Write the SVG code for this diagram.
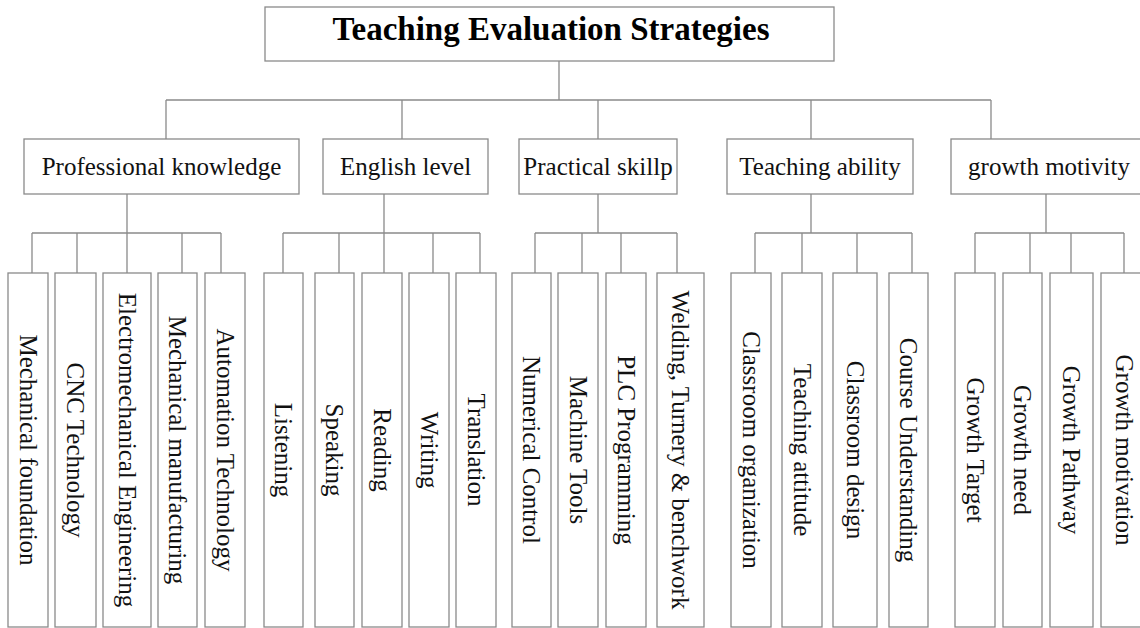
<svg xmlns="http://www.w3.org/2000/svg" width="1140" height="628" viewBox="0 0 1140 628">
<style>
.box{fill:#fff;stroke:#8a8a8a;stroke-width:1.3}
.ln{fill:none;stroke:#8a8a8a;stroke-width:1.3}
.t{font-family:"Liberation Serif","Times New Roman",serif;font-size:25px;fill:#111;text-anchor:middle}
.title{font-family:"Liberation Serif","Times New Roman",serif;font-size:33px;font-weight:bold;fill:#000;text-anchor:middle}
</style>
<rect width="1140" height="628" fill="#fff"/>
<g id="connectors" class="ln">
<path d="M559 61V100M166 100H991M166 100V139M402 100V139M598 100V139M811 100V139M991 100V139"/>
<path d="M127 194V233M32 233H221M32 233V273M77 233V273M127 233V273M182 233V273M221 233V273"/>
<path d="M384 194V233M283 233H480M283 233V273M339 233V273M384 233V273M433 233V273M480 233V273"/>
<path d="M598 194V233M535 233H677M535 233V273M582 233V273M621 233V273M677 233V273"/>
<path d="M811 194V233M755 233H912M755 233V273M802 233V273M857 233V273M912 233V273"/>
<path d="M1046 194V233M975 233H1124M975 233V273M1030 233V273M1071 233V273M1124 233V273"/>
</g>
<g id="root"><rect class="box" x="265" y="7" width="569" height="54"/><text class="title" x="551" y="40">Teaching Evaluation Strategies</text></g>
<g id="n-prof"><rect class="box" x="24" y="139" width="275" height="55"/><text class="t" x="161.5" y="175">Professional knowledge</text></g>
<g id="n-eng"><rect class="box" x="323" y="139" width="165" height="55"/><text class="t" x="405.5" y="175">English level</text></g>
<g id="n-prac"><rect class="box" x="519" y="139" width="158" height="55"/><text class="t" x="598" y="175">Practical skillp</text></g>
<g id="n-teach"><rect class="box" x="727" y="139" width="186" height="55"/><text class="t" x="820" y="175">Teaching ability</text></g>
<g id="n-growth"><rect class="box" x="951" y="139" width="196" height="55"/><text class="t" x="1049" y="175">growth motivity</text></g>

<g id="l-mf"><rect class="box" x="8" y="273" width="40" height="354"/><text class="t" transform="translate(28,450) rotate(90)" y="8.5">Mechanical foundation</text></g>
<g id="l-cnc"><rect class="box" x="55" y="273" width="41" height="354"/><text class="t" transform="translate(75.5,450) rotate(90)" y="8.5">CNC Technology</text></g>
<g id="l-ee"><rect class="box" x="103" y="273" width="48" height="354"/><text class="t" transform="translate(127,450) rotate(90)" y="8.5">Electromechanical Engineering</text></g>
<g id="l-mm"><rect class="box" x="158" y="273" width="39" height="354"/><text class="t" transform="translate(177.5,450) rotate(90)" y="8.5">Mechanical manufacturing</text></g>
<g id="l-at"><rect class="box" x="205" y="273" width="40" height="354"/><text class="t" transform="translate(225,450) rotate(90)" y="8.5">Automation Technology</text></g>

<g id="l-lis"><rect class="box" x="264" y="273" width="39" height="354"/><text class="t" transform="translate(283.5,450) rotate(90)" y="8.5">Listening</text></g>
<g id="l-spk"><rect class="box" x="315" y="273" width="39" height="354"/><text class="t" transform="translate(334.5,450) rotate(90)" y="8.5">Speaking</text></g>
<g id="l-rd"><rect class="box" x="362" y="273" width="40" height="354"/><text class="t" transform="translate(382,450) rotate(90)" y="8.5">Reading</text></g>
<g id="l-wr"><rect class="box" x="409" y="273" width="40" height="354"/><text class="t" transform="translate(429,450) rotate(90)" y="8.5">Writing</text></g>
<g id="l-tr"><rect class="box" x="456" y="273" width="40" height="354"/><text class="t" transform="translate(476,450) rotate(90)" y="8.5">Translation</text></g>

<g id="l-nc"><rect class="box" x="512" y="273" width="39" height="354"/><text class="t" transform="translate(531.5,450) rotate(90)" y="8.5">Numerical Control</text></g>
<g id="l-mt"><rect class="box" x="558" y="273" width="40" height="354"/><text class="t" transform="translate(578,450) rotate(90)" y="8.5">Machine Tools</text></g>
<g id="l-plc"><rect class="box" x="606" y="273" width="40" height="354"/><text class="t" transform="translate(626,450) rotate(90)" y="8.5">PLC Programming</text></g>
<g id="l-wtb"><rect class="box" x="657" y="273" width="47" height="354"/><text class="t" transform="translate(680.5,450) rotate(90)" y="8.5">Welding, Turnery &amp; benchwork</text></g>

<g id="l-co"><rect class="box" x="731" y="273" width="40" height="354"/><text class="t" transform="translate(751,450) rotate(90)" y="8.5">Classroom organization</text></g>
<g id="l-ta"><rect class="box" x="782" y="273" width="40" height="354"/><text class="t" transform="translate(802,450) rotate(90)" y="8.5">Teaching attitude</text></g>
<g id="l-cd"><rect class="box" x="833" y="273" width="44" height="354"/><text class="t" transform="translate(855,450) rotate(90)" y="8.5">Classroom design</text></g>
<g id="l-cu"><rect class="box" x="889" y="273" width="39" height="354"/><text class="t" transform="translate(908.5,450) rotate(90)" y="8.5">Course Understanding</text></g>

<g id="l-gt"><rect class="box" x="955" y="273" width="40" height="354"/><text class="t" transform="translate(975,450) rotate(90)" y="8.5">Growth Target</text></g>
<g id="l-gn"><rect class="box" x="1003" y="273" width="39" height="354"/><text class="t" transform="translate(1022.5,450) rotate(90)" y="8.5">Growth need</text></g>
<g id="l-gp"><rect class="box" x="1050" y="273" width="43" height="354"/><text class="t" transform="translate(1071.5,450) rotate(90)" y="8.5">Growth Pathway</text></g>
<g id="l-gm"><rect class="box" x="1101" y="273" width="46" height="354"/><text class="t" transform="translate(1124,450) rotate(90)" y="8.5">Growth motivation</text></g>
</svg>
